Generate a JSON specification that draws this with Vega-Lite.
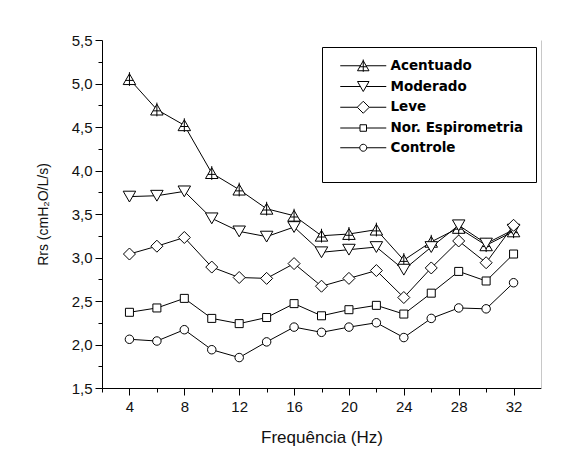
{
  "$schema": "https://vega.github.io/schema/vega-lite/v6.json",
  "width": 439,
  "height": 348,
  "autosize": {"type": "none"},
  "padding": {"left": 102, "top": 40, "right": 29, "bottom": 63},
  "background": "white",
  "config": {
    "view": {"stroke": null},
    "axis": {"labelFont": "Liberation Sans", "titleFont": "Liberation Sans", "labelColor": "#111", "titleColor": "#111", "domainColor": "black", "tickColor": "black", "grid": false, "titleFontWeight": "normal"}
  },
  "data": {
    "values": [
      {"f": 4, "serie": "Acentuado", "v": 5.05}, {"f": 6, "serie": "Acentuado", "v": 4.70}, {"f": 8, "serie": "Acentuado", "v": 4.52}, {"f": 10, "serie": "Acentuado", "v": 3.97}, {"f": 12, "serie": "Acentuado", "v": 3.78}, {"f": 14, "serie": "Acentuado", "v": 3.56}, {"f": 16, "serie": "Acentuado", "v": 3.48}, {"f": 18, "serie": "Acentuado", "v": 3.25}, {"f": 20, "serie": "Acentuado", "v": 3.27}, {"f": 22, "serie": "Acentuado", "v": 3.32}, {"f": 24, "serie": "Acentuado", "v": 2.97}, {"f": 26, "serie": "Acentuado", "v": 3.18}, {"f": 28, "serie": "Acentuado", "v": 3.34}, {"f": 30, "serie": "Acentuado", "v": 3.14}, {"f": 32, "serie": "Acentuado", "v": 3.30},
      {"f": 4, "serie": "Moderado", "v": 3.70}, {"f": 6, "serie": "Moderado", "v": 3.71}, {"f": 8, "serie": "Moderado", "v": 3.76}, {"f": 10, "serie": "Moderado", "v": 3.45}, {"f": 12, "serie": "Moderado", "v": 3.30}, {"f": 14, "serie": "Moderado", "v": 3.24}, {"f": 16, "serie": "Moderado", "v": 3.35}, {"f": 18, "serie": "Moderado", "v": 3.06}, {"f": 20, "serie": "Moderado", "v": 3.09}, {"f": 22, "serie": "Moderado", "v": 3.12}, {"f": 24, "serie": "Moderado", "v": 2.86}, {"f": 26, "serie": "Moderado", "v": 3.12}, {"f": 28, "serie": "Moderado", "v": 3.37}, {"f": 30, "serie": "Moderado", "v": 3.16}, {"f": 32, "serie": "Moderado", "v": 3.32},
      {"f": 4, "serie": "Leve", "v": 3.04}, {"f": 6, "serie": "Leve", "v": 3.13}, {"f": 8, "serie": "Leve", "v": 3.23}, {"f": 10, "serie": "Leve", "v": 2.89}, {"f": 12, "serie": "Leve", "v": 2.77}, {"f": 14, "serie": "Leve", "v": 2.76}, {"f": 16, "serie": "Leve", "v": 2.93}, {"f": 18, "serie": "Leve", "v": 2.67}, {"f": 20, "serie": "Leve", "v": 2.76}, {"f": 22, "serie": "Leve", "v": 2.85}, {"f": 24, "serie": "Leve", "v": 2.54}, {"f": 26, "serie": "Leve", "v": 2.88}, {"f": 28, "serie": "Leve", "v": 3.19}, {"f": 30, "serie": "Leve", "v": 2.94}, {"f": 32, "serie": "Leve", "v": 3.37},
      {"f": 4, "serie": "Nor. Espirometria", "v": 2.37}, {"f": 6, "serie": "Nor. Espirometria", "v": 2.42}, {"f": 8, "serie": "Nor. Espirometria", "v": 2.53}, {"f": 10, "serie": "Nor. Espirometria", "v": 2.30}, {"f": 12, "serie": "Nor. Espirometria", "v": 2.24}, {"f": 14, "serie": "Nor. Espirometria", "v": 2.31}, {"f": 16, "serie": "Nor. Espirometria", "v": 2.47}, {"f": 18, "serie": "Nor. Espirometria", "v": 2.33}, {"f": 20, "serie": "Nor. Espirometria", "v": 2.40}, {"f": 22, "serie": "Nor. Espirometria", "v": 2.45}, {"f": 24, "serie": "Nor. Espirometria", "v": 2.35}, {"f": 26, "serie": "Nor. Espirometria", "v": 2.59}, {"f": 28, "serie": "Nor. Espirometria", "v": 2.84}, {"f": 30, "serie": "Nor. Espirometria", "v": 2.73}, {"f": 32, "serie": "Nor. Espirometria", "v": 3.04},
      {"f": 4, "serie": "Controle", "v": 2.06}, {"f": 6, "serie": "Controle", "v": 2.04}, {"f": 8, "serie": "Controle", "v": 2.17}, {"f": 10, "serie": "Controle", "v": 1.94}, {"f": 12, "serie": "Controle", "v": 1.85}, {"f": 14, "serie": "Controle", "v": 2.03}, {"f": 16, "serie": "Controle", "v": 2.20}, {"f": 18, "serie": "Controle", "v": 2.14}, {"f": 20, "serie": "Controle", "v": 2.20}, {"f": 22, "serie": "Controle", "v": 2.25}, {"f": 24, "serie": "Controle", "v": 2.08}, {"f": 26, "serie": "Controle", "v": 2.30}, {"f": 28, "serie": "Controle", "v": 2.42}, {"f": 30, "serie": "Controle", "v": 2.41}, {"f": 32, "serie": "Controle", "v": 2.71}
    ]
  },
  "resolve": {"scale": {"shape": "independent"}, "axis": {"x": "independent", "y": "independent"}},
  "layer": [
    {
      "mark": {"type": "line", "color": "black", "strokeWidth": 1},
      "encoding": {
        "x": {"field": "f", "type": "quantitative", "scale": {"domain": [2, 34], "nice": false, "zero": false},
          "axis": {"orient": "bottom", "values": [4, 8, 12, 16, 20, 24, 28, 32], "tickSize": 7, "labelPadding": 4, "labelFontSize": 15, "title": "Frequência (Hz)", "titleFontSize": 17, "titlePadding": 15, "labelFlush": false, "labelOverlap": false}},
        "y": {"field": "v", "type": "quantitative", "scale": {"domain": [1.5, 5.5], "nice": false, "zero": false},
          "axis": {"orient": "left", "values": [1.5, 2, 2.5, 3, 3.5, 4, 4.5, 5, 5.5], "labelExpr": "replace(format(datum.value, '.1f'), '.', ',')", "tickSize": 7, "labelPadding": 3, "labelFontSize": 15, "title": "Rrs (cmH₂O/L/s)", "titleFontSize": 14, "titlePadding": 21, "labelFlush": false, "labelOverlap": false}},
        "detail": {"field": "serie", "type": "nominal"}
      }
    },
    {
      "mark": {"type": "point", "filled": true, "fill": "white", "stroke": "black", "strokeWidth": 1, "size": 100, "opacity": 1},
      "encoding": {
        "x": {"field": "f", "type": "quantitative", "axis": {"orient": "bottom", "values": [2, 6, 10, 14, 18, 22, 26, 30], "tickSize": 4, "labels": false, "domain": false, "title": null}},
        "y": {"field": "v", "type": "quantitative", "axis": {"orient": "left", "values": [1.75, 2.25, 2.75, 3.25, 3.75, 4.25, 4.75, 5.25], "tickSize": 4, "labels": false, "domain": false, "title": null}},
        "shape": {"field": "serie", "type": "nominal", "legend": null,
          "scale": {"domain": ["Acentuado", "Moderado", "Leve", "Nor. Espirometria", "Controle"],
            "range": [
              "M0,-1.08 L-1.25,1.08 L1.25,1.08 Z M0,-1.4 L0,1.35 M-0.75,0.25 L0.75,0.25",
              "M0,1.08 L-1.25,-1.08 L1.25,-1.08 Z",
              "M0,-1.2 L1.2,0 L0,1.2 L-1.2,0 Z",
              "M-0.8,-0.8 L0.8,-0.8 L0.8,0.8 L-0.8,0.8 Z",
              "M0.85,0 A0.85,0.85 0 1,1 -0.85,0 A0.85,0.85 0 1,1 0.85,0 Z"
            ]}}
      }
    },
    {
      "transform": [{"filter": "datum.v > 100"}],
      "mark": {"type": "point", "filled": false, "color": "black", "strokeWidth": 1, "size": 100},
      "encoding": {
        "x": {"field": "f", "type": "quantitative", "axis": null},
        "y": {"field": "v", "type": "quantitative", "axis": {"orient": "right", "domainColor": "#c8c8c8", "ticks": false, "labels": false, "title": null}},
        "shape": {"field": "serie", "type": "nominal",
          "scale": {"domain": ["Acentuado", "Moderado", "Leve", "Nor. Espirometria", "Controle"],
            "range": [
              "M-0.1,0 L3.925,0 M5.075,0 L9.1,0 M4.5,-1.0 L3.35,1.0 L5.65,1.0 Z M4.5,-1.25 L4.5,1.2 M3.8,0.2 L5.2,0.2",
              "M-0.1,0 L3.925,0 M5.075,0 L9.1,0 M4.5,1.0 L3.35,-1.0 L5.65,-1.0 Z",
              "M-0.1,0 L3.3,0 M5.7,0 L9.1,0 M4.5,-1.2 L5.7,0 L4.5,1.2 L3.3,0 Z",
              "M-0.1,0 L3.85,0 M5.15,0 L9.1,0 M3.85,-0.65 L5.15,-0.65 L5.15,0.65 L3.85,0.65 Z",
              "M-0.1,0 L3.8,0 M5.2,0 L9.1,0 M5.2,0 A0.7,0.7 0 1,1 3.8,0 A0.7,0.7 0 1,1 5.2,0 Z"
            ]},
          "legend": {"orient": "none", "legendX": 220, "legendY": 7, "title": " ", "titleOrient": "bottom", "titleFontSize": 10, "titlePadding": 6,
            "padding": 12, "rowPadding": 4.75, "strokeColor": "black", "fillColor": "white",
            "labelFont": "DejaVu Sans", "labelFontWeight": "bold", "labelFontSize": 13.5, "labelColor": "black", "labelOffset": 43, "labelLimit": 300,
            "symbolSize": 100, "symbolStrokeWidth": 1, "symbolStrokeColor": "black", "symbolOpacity": 1}}
      }
    }
  ]
}
